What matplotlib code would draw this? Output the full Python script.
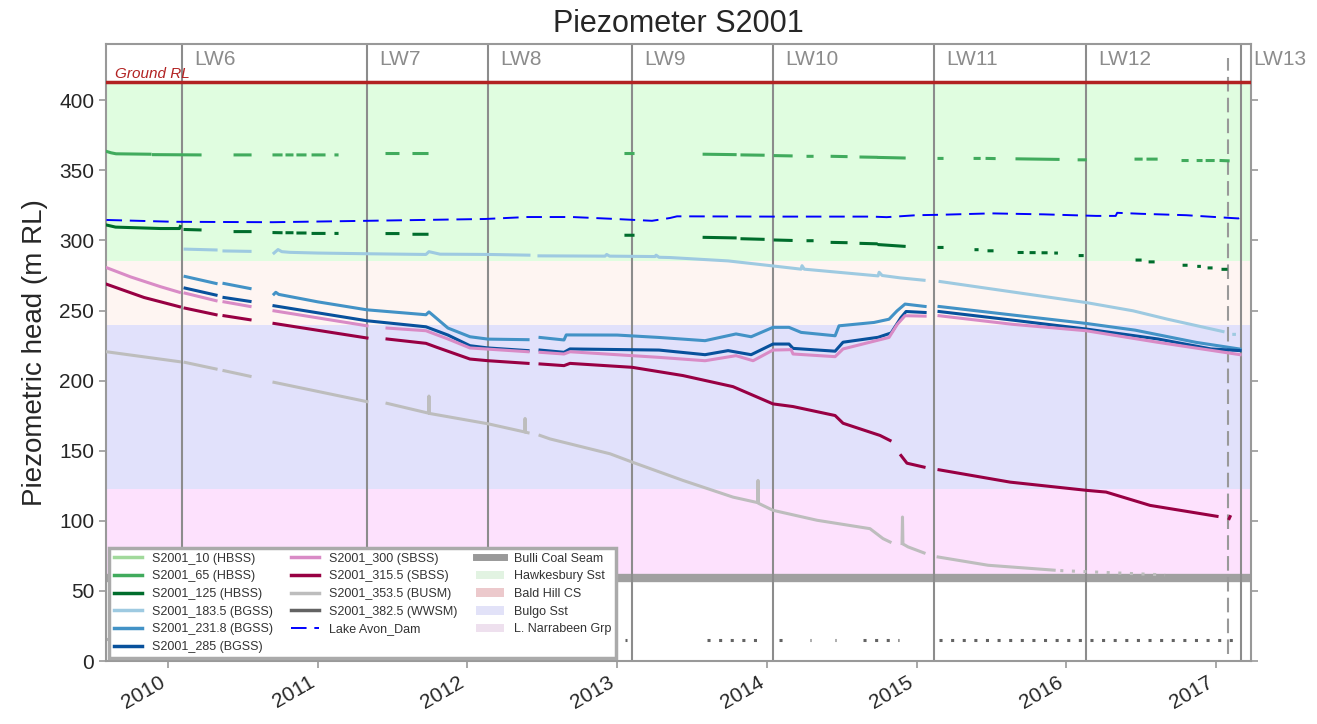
import numpy as np
import matplotlib.pyplot as plt
from matplotlib.lines import Line2D
from matplotlib.patches import Patch

plt.rcParams['font.family'] = ['Liberation Sans', 'DejaVu Sans']

nan = np.nan

# time in decimal years, nan = gap in the logger record
s10_t = []
s10_v = []

s65_t = [2009.589, 2009.620, 2009.653, 2009.880, nan,
         2009.903, 2010.214, nan, 2010.448, 2010.548, nan,
         2010.708, 2010.755, nan, 2010.795, 2010.828, nan,
         2010.868, 2010.915, nan, 2010.969, 2011.042, nan,
         2011.122, 2011.129, nan, 2011.463, 2011.536, nan,
         2011.643, 2011.730, nan, 2013.059, 2013.106, nan,
         2013.581, 2013.788, nan, 2013.834, 2013.975, nan,
         2014.055, 2014.162, nan, 2014.275, 2014.302, nan,
         2014.436, 2014.529, nan, 2014.629, 2014.730, nan,
         2014.750, 2014.917, nan, 2015.150, 2015.170, nan,
         2015.391, 2015.418, nan, 2015.471, 2015.518, nan,
         2015.671, 2015.945, nan, 2016.086, 2016.126, nan,
         2016.466, 2016.500, nan, 2016.546, 2016.600, nan,
         2016.780, 2016.807, nan, 2016.881, 2016.900, nan,
         2016.941, 2016.981, nan, 2017.034, 2017.081]
s65_v = [363.5, 362.5, 361.8, 361.5, nan,
         361.2, 361.0, nan, 361.0, 361.0, nan,
         361.0, 361.0, nan, 361.0, 361.0, nan,
         361.0, 361.0, nan, 361.0, 361.0, nan,
         361.0, 361.0, nan, 362.0, 362.0, nan,
         362.0, 362.0, nan, 362.0, 362.0, nan,
         361.5, 361.2, nan, 361.0, 360.8, nan,
         360.5, 360.3, nan, 360.0, 360.0, nan,
         360.0, 359.8, nan, 359.5, 359.3, nan,
         359.2, 358.8, nan, 358.5, 358.5, nan,
         358.5, 358.5, nan, 358.5, 358.4, nan,
         358.2, 357.8, nan, 357.5, 357.5, nan,
         358.0, 358.0, nan, 358.0, 358.0, nan,
         357.0, 357.0, nan, 357.0, 357.0, nan,
         357.0, 357.0, nan, 357.0, 356.8]

s125_t = [2009.589, 2009.650, 2009.800, 2009.950, 2010.077, 2010.082, nan,
          2010.114, 2010.214, nan, 2010.448, 2010.548, nan,
          2010.708, 2010.755, nan, 2010.795, 2010.828, nan,
          2010.868, 2010.915, nan, 2010.969, 2011.042, nan,
          2011.122, 2011.129, nan, 2011.463, 2011.536, nan,
          2011.643, 2011.730, nan, 2013.059, 2013.106, nan,
          2013.581, 2013.788, nan, 2013.834, 2013.975, nan,
          2014.055, 2014.162, nan, 2014.275, 2014.302, nan,
          2014.436, 2014.529, nan, 2014.629, 2014.730, nan,
          2014.750, 2014.917, nan, 2015.150, 2015.170, nan,
          2015.397, 2015.404, nan, 2015.484, 2015.504, nan,
          2015.685, 2015.705, nan, 2015.765, 2015.785, nan,
          2015.845, 2015.865, nan, 2015.930, 2015.934, nan,
          2016.093, 2016.106, nan, 2016.473, 2016.493, nan,
          2016.560, 2016.580, nan, 2016.787, 2016.800, nan,
          2016.885, 2016.889, nan, 2016.954, 2016.967, nan,
          2017.047, 2017.067]
s125_v = [311.0, 309.5, 309.0, 308.5, 308.5, 310.0, nan,
          307.8, 307.5, nan, 306.3, 306.3, nan,
          305.6, 305.5, nan, 305.5, 305.5, nan,
          305.3, 305.3, nan, 305.0, 305.0, nan,
          305.0, 305.0, nan, 304.9, 304.9, nan,
          304.4, 304.4, nan, 303.7, 303.7, nan,
          302.2, 301.8, nan, 301.2, 300.8, nan,
          300.3, 300.0, nan, 299.8, 299.8, nan,
          298.6, 298.4, nan, 297.9, 297.6, nan,
          297.0, 295.8, nan, 295.0, 295.0, nan,
          293.4, 293.4, nan, 292.6, 292.6, nan,
          291.4, 291.4, nan, 291.3, 291.3, nan,
          291.2, 291.2, nan, 291.0, 291.0, nan,
          289.2, 289.2, nan, 286.0, 286.0, nan,
          284.7, 284.7, nan, 282.3, 282.3, nan,
          281.5, 281.5, nan, 280.4, 280.4, nan,
          279.4, 279.4]

s183_t = [2010.114, 2010.321, nan, 2010.374, 2010.548, nan,
          2010.708, 2010.735, 2010.760, 2010.815, 2011.000, 2011.329,
          2011.723, 2011.743, 2011.817, 2012.138, 2012.411, nan,
          2012.478, 2012.919, 2012.930, 2012.950, 2013.253, 2013.260,
          2013.280, 2013.353, 2013.741, 2014.041, 2014.229, 2014.235,
          2014.250, 2014.743, 2014.750, 2014.770, 2014.890, 2015.050, nan,
          2015.157, 2015.397, 2016.132, 2016.446, 2016.673, 2017.047, nan,
          2017.119, 2017.123]
s183_v = [293.8, 293.2, nan, 292.5, 292.2, nan,
          291.0, 293.5, 292.0, 291.5, 291.0, 290.5,
          290.0, 292.0, 290.2, 290.0, 289.5, nan,
          289.0, 288.8, 290.0, 288.8, 288.5, 289.5,
          288.0, 287.8, 285.4, 281.8, 279.5, 282.0,
          279.5, 274.7, 277.3, 275.0, 273.3, 271.6, nan,
          270.7, 267.0, 255.7, 249.8, 243.9, 235.0, nan,
          233.0, 233.0]

s231_t = [2010.114, 2010.321, nan, 2010.374, 2010.548, nan,
          2010.708, 2010.720, 2010.740, 2011.000, 2011.329, 2011.723,
          2011.743, 2011.760, 2011.870, 2012.017, 2012.138, 2012.405, nan,
          2012.485, 2012.645, 2012.660, 2013.000, 2013.280, 2013.587,
          2013.794, 2013.895, 2014.041, 2014.148, 2014.229, 2014.456,
          2014.482, 2014.716, 2014.816, 2014.870, 2014.923, 2015.057, nan,
          2015.150, 2015.585, 2016.132, 2016.460, 2016.867, 2017.161]
s231_v = [274.3, 269.3, nan, 269.3, 265.7, nan,
          261.7, 263.0, 261.5, 256.2, 250.5, 247.0,
          249.0, 247.5, 237.5, 231.3, 229.6, 229.2, nan,
          230.8, 229.0, 232.6, 232.5, 230.8, 228.5,
          233.3, 231.3, 238.0, 238.0, 234.4, 232.0,
          239.1, 241.5, 243.8, 249.8, 254.6, 252.9, nan,
          252.9, 247.5, 240.8, 236.0, 227.3, 222.5]

s285_t = [2010.114, 2010.321, nan, 2010.374, 2010.548, nan,
          2010.708, 2011.329, 2011.723, 2011.870, 2012.017, 2012.138,
          2012.405, nan,
          2012.485, 2012.645, 2012.685, 2013.280, 2013.587, 2013.741,
          2013.895, 2014.041, 2014.148, 2014.175, 2014.456, 2014.509,
          2014.743, 2014.830, 2014.896, 2014.930, 2015.057, nan,
          2015.150, 2015.638, 2016.132, 2016.613, 2016.967, 2017.161]
s285_v = [266.0, 261.0, nan, 259.3, 256.5, nan,
          253.4, 242.7, 238.4, 232.5, 224.9, 223.3,
          221.4, nan,
          221.8, 220.2, 222.6, 221.8, 218.5, 221.4,
          218.5, 226.1, 226.1, 223.0, 221.0, 227.4,
          230.9, 234.0, 245.0, 249.3, 248.6, nan,
          249.3, 243.2, 236.8, 229.7, 222.6, 221.4]

s300_t = [2009.589, 2009.750, 2009.950, 2010.077, nan,
          2010.114, 2010.321, nan, 2010.374, 2010.548, nan,
          2010.708, 2011.329, nan,
          2011.463, 2011.723, 2011.870, 2012.017, 2012.405, nan,
          2012.485, 2012.645, 2012.685, 2013.280, 2013.587, 2013.794,
          2013.908, 2014.041, 2014.162, 2014.175, 2014.456, 2014.509,
          2014.816, 2014.870, 2014.923, 2015.057, nan,
          2015.150, 2015.638, 2016.132, 2016.613, 2017.161]
s300_v = [280.6, 274.0, 267.0, 263.0, nan,
          262.4, 257.0, nan, 256.2, 252.9, nan,
          249.8, 239.1, nan,
          237.5, 235.6, 229.7, 223.3, 220.6, nan,
          220.2, 219.0, 220.6, 216.6, 214.2, 217.8,
          214.2, 221.8, 222.1, 219.0, 217.1, 222.6,
          230.8, 240.0, 246.3, 246.0, nan,
          246.3, 240.2, 235.6, 227.3, 218.5]

s315_t = [2009.589, 2009.840, 2010.077, nan,
          2010.114, 2010.321, nan, 2010.374, 2010.548, nan,
          2010.708, 2011.329, nan,
          2011.463, 2011.723, 2011.797, 2012.017, 2012.138, 2012.405, nan,
          2012.485, 2012.645, 2012.685, 2013.100, 2013.440, 2013.774,
          2014.041, 2014.175, 2014.456, 2014.509, 2014.756, 2014.823, nan,
          2014.896, 2014.936, 2015.050, nan,
          2015.150, 2015.625, 2016.139, 2016.266, 2016.560, 2017.007, nan,
          2017.088, 2017.094]
s315_v = [268.8, 259.3, 252.7, nan,
          251.7, 247.0, nan, 246.3, 243.4, nan,
          240.8, 230.4, nan,
          229.7, 226.6, 223.7, 215.4, 214.2, 212.3, nan,
          211.9, 210.7, 212.3, 209.5, 203.6, 195.7,
          183.4, 181.5, 175.1, 169.6, 160.9, 157.3, nan,
          146.6, 141.1, 138.3, nan,
          136.4, 127.6, 121.7, 120.5, 111.0, 103.2, nan,
          101.6, 103.0]

s353_t = [2009.589, 2010.077, nan, 2010.114, 2010.321, nan,
          2010.374, 2010.548, nan, 2010.708, 2011.329, nan,
          2011.463, 2011.740, 2011.743, 2011.746, 2012.138, 2012.382,
          2012.385, 2012.388, 2012.405, nan,
          2012.485, 2012.552, 2012.685, 2012.953, 2013.100, 2013.440,
          2013.774, 2013.938, 2013.941, 2013.944, 2014.041, 2014.335,
          2014.689, 2014.776, 2014.823, nan,
          2014.903, 2014.906, 2014.909, 2014.943, 2015.050, nan,
          2015.144, 2015.478, 2015.919]
s353_v = [220.6, 213.5, nan, 213.0, 208.3, nan,
          207.1, 203.1, nan, 198.8, 185.0, nan,
          183.8, 176.8, 189.0, 176.6, 169.2, 163.4,
          173.0, 163.2, 162.8, nan,
          160.9, 158.4, 154.9, 147.8, 141.9, 128.8,
          116.9, 113.0, 128.8, 112.5, 107.5, 100.4,
          94.4, 87.3, 84.9, nan,
          83.8, 102.7, 83.5, 81.4, 77.1, nan,
          74.2, 68.3, 64.8]
# sparse tail of S2001_353.5
s353_tail_t = [2015.960, 2016.660]
s353_tail_v = [64.5, 61.4]

s382_t = [2009.592, 2009.600, nan, 2013.055, 2013.065, nan,
          2013.597, 2013.940, nan, 2014.080, 2014.140, nan,
          2014.285, 2014.295, nan, 2014.455, 2014.465, nan,
          2014.640, 2014.880, nan, 2015.150, 2017.130]
s382_v = [15.5, 15.5, nan, 15.0, 15.0, nan,
          15.0, 15.0, nan, 15.0, 15.0, nan,
          15.0, 15.0, nan, 15.0, 15.0, nan,
          15.0, 15.0, nan, 15.0, 15.0]

lake_t = [2009.589, 2010.040, 2010.700, 2011.329, 2012.118, 2012.400,
          2012.700, 2012.950, 2013.233, 2013.353, 2013.400, 2014.041,
          2014.700, 2014.800, 2015.000, 2015.157, 2015.500, 2015.850,
          2016.200, 2016.330, 2016.340, 2016.500, 2016.800, 2017.100,
          2017.150, 2017.190]
lake_v = [314.6, 313.3, 313.0, 314.0, 315.3, 316.7,
          316.7, 315.5, 314.0, 316.0, 317.2, 317.0,
          317.0, 316.6, 318.0, 318.3, 319.3, 318.6,
          317.5, 317.5, 319.7, 319.0, 318.0, 316.0,
          315.7, 318.0]

ground_rl = 413
bulli_seam = 59
units = [("Hawkesbury Sst", 285, 413), ("Bald Hill CS", 240, 285),
         ("Bulgo Sst", 123, 240), ("L. Narrabeen Grp", 59, 123)]
unit_colors = ['#e0fde0', '#fef5f2', '#e1e1fb', '#fde1fd']
unit_legend_colors = ['#e2f3e2', '#ecc9cc', '#e2e2f8', '#eee0ee']

longwalls = ["LW6", "LW7", "LW8", "LW9", "LW10", "LW11", "LW12", "LW13"]
lw_start = [2010.094, 2011.329, 2012.138, 2013.100, 2014.041, 2015.117,
            2016.132, 2017.168]
end_of_data = 2017.081

series = [
    ("S2001_10 (HBSS)", s10_t, s10_v, '#a1d99b'),
    ("S2001_65 (HBSS)", s65_t, s65_v, '#41ab5d'),
    ("S2001_125 (HBSS)", s125_t, s125_v, '#006d2c'),
    ("S2001_183.5 (BGSS)", s183_t, s183_v, '#9ecae1'),
    ("S2001_231.8 (BGSS)", s231_t, s231_v, '#4292c6'),
    ("S2001_285 (BGSS)", s285_t, s285_v, '#08519c'),
    ("S2001_300 (SBSS)", s300_t, s300_v, '#d98bc6'),
    ("S2001_315.5 (SBSS)", s315_t, s315_v, '#980043'),
    ("S2001_353.5 (BUSM)", s353_t, s353_v, '#bdbdbd'),
    ("S2001_382.5 (WWSM)", s382_t, s382_v, '#636363'),
]


def plot():
    fig = plt.figure(figsize=(13.17, 7.24), dpi=100)
    ax = fig.add_axes([0.0805, 0.087, 0.8694, 0.852])

    for (name, lo, hi), c in zip(units, unit_colors):
        ax.axhspan(lo, hi, color=c, lw=0, zorder=0)
    ax.axhline(bulli_seam, color='#a0a0a0', lw=6, zorder=1)
    ax.axhline(ground_rl, color='#b22222', lw=2.5, zorder=3)
    ax.text(2009.646, 415.8, "Ground RL", color='#b22222', fontsize=11,
            style='italic', va='baseline', zorder=4)

    for name, x in zip(longwalls, lw_start):
        ax.axvline(x, color='#8c8c8c', lw=1.5, zorder=2)
        ax.annotate(name, xy=(x, 1), xycoords=('data', 'axes fraction'),
                    xytext=(9, -4.5), textcoords='offset points',
                    va='top', ha='left', fontsize=15, color='#8c8c8c',
                    annotation_clip=False)
    ax.plot([end_of_data, end_of_data], [5, 430], color='#999999', lw=1.5,
            dashes=(7, 3), zorder=2)

    handles = []
    for name, t, v, c in series:
        if name.startswith("S2001_382.5"):
            ax.plot(t, v, color=c, lw=2.2, ls=(0, (1, 2.8)), zorder=5)
        else:
            ax.plot(t, v, color=c, lw=2.2, zorder=5)
        handles.append(Line2D([], [], color=c, lw=2.5, label=name))
    ax.plot(s353_tail_t, s353_tail_v, color='#bdbdbd', lw=2.2,
            ls=(0, (1, 2.8)), zorder=5)
    ax.plot(lake_t, lake_v, color='blue', lw=1.4, dashes=(8, 4), zorder=4)
    handles.append(Line2D([], [], color='blue', lw=1.4, dashes=(8, 4),
                          label="Lake Avon_Dam"))
    handles.append(Line2D([], [], color='#999999', lw=5,
                          label="Bulli Coal Seam"))
    for (name, lo, hi), c in zip(units, unit_legend_colors):
        handles.append(Patch(facecolor=c, edgecolor='none', label=name))

    leg = ax.legend(handles=handles, loc='lower left', ncol=3, fontsize=9,
                    frameon=True, fancybox=False, framealpha=1,
                    borderaxespad=0.25, handlelength=2.2, columnspacing=1.5,
                    labelspacing=0.45)
    leg.get_frame().set_edgecolor('#aaaaaa')
    leg.get_frame().set_linewidth(2.5)
    leg.set_zorder(10)
    for txt in leg.get_texts():
        txt.set_color('#333333')

    ax.set_xlim(2009.586, 2017.234)
    ax.set_ylim(0, 440)
    ax.set_xticks(range(2010, 2018))
    ax.set_xticklabels([str(y) for y in range(2010, 2018)], rotation=30,
                       ha='right')
    ax.set_yticks(range(0, 401, 50))
    ax.tick_params(axis='both', labelsize=15, colors='#999999',
                   labelcolor='#262626', length=5, width=1.2, direction='out')
    ax.tick_params(axis='y', right=True)
    for s in ax.spines.values():
        s.set_color('#999999')
        s.set_linewidth(1.5)
    ax.set_ylabel("Piezometric head (m RL)", fontsize=20, color='#262626',
                  labelpad=8)
    ax.set_title("Piezometer S2001", fontsize=22, color='#262626', pad=9)

    fig.savefig("out.png", dpi=100)


if __name__ == "__main__":
    plot()
